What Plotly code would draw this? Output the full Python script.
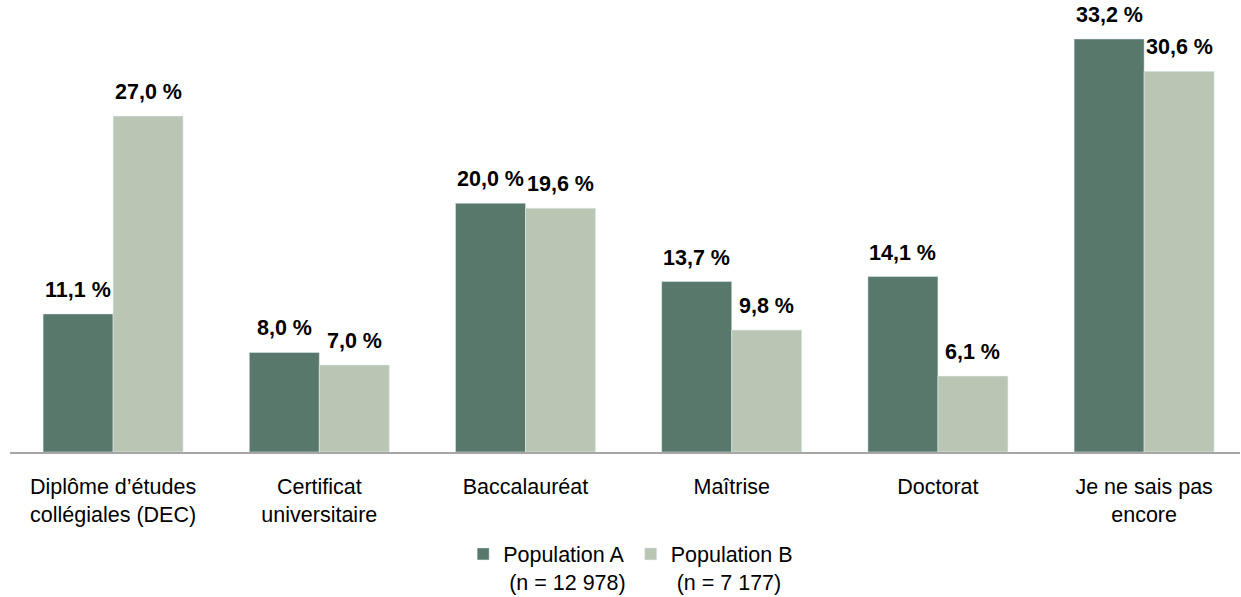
import plotly.graph_objects as go

categories = ["Diplôme d’études<br>collégiales (DEC)", "Certificat<br>universitaire",
              "Baccalauréat", "Maîtrise", "Doctorat", "Je ne sais pas<br>encore"]
pop_a = [11.1, 8.0, 20.0, 13.7, 14.1, 33.2]
pop_b = [27.0, 7.0, 19.6, 9.8, 6.1, 30.6]
name_a = "Population A<br>\u00a0(n = 12 978)"
name_b = "Population B<br>\u00a0(n = 7 177)"

col_a = "#57786B"
col_b = "#B9C6B4"
FONT = "Liberation Sans, Arial, sans-serif"
FS = 21.5

def fmt(v):
    return f"{v:.1f}".replace(".", ",") + " %"

fig = go.Figure()
fig.add_trace(go.Bar(x=categories, y=pop_a, name=name_a, marker_color=col_a))
fig.add_trace(go.Bar(x=categories, y=pop_b, name=name_b, marker_color=col_b))

for vals, shift in ((pop_a, -35), (pop_b, 35)):
    for c, v in zip(categories, vals):
        fig.add_annotation(x=c, y=v, text=fmt(v), showarrow=False, xshift=shift,
                           yanchor="bottom", yshift=10,
                           font=dict(family=FONT, size=FS, color="#000000", weight="bold"))

fig.update_layout(
    width=1241, height=597,
    margin=dict(l=10, r=1, t=10, b=145, autoexpand=False),
    paper_bgcolor="white", plot_bgcolor="white",
    barmode="group", bargap=0.321, bargroupgap=0,
    font=dict(family=FONT, size=FS, color="#000000"),
    showlegend=True,
    legend=dict(orientation="h", x=0.5046, xanchor="center",
                yref="container", y=0.1065, yanchor="top",
                valign="top", font=dict(family=FONT, size=FS, color="#000000"),
                traceorder="normal"),
)
fig.update_xaxes(range=[-0.5, 5.465], showline=True, linecolor="#A6A6A6", linewidth=2,
                 ticks="", showgrid=False, automargin=False, ticklabelstandoff=14,
                 tickfont=dict(family=FONT, size=FS))
fig.update_yaxes(range=[0, 35.53], visible=False, showgrid=False, automargin=False)

fig.write_html("out.html", config={"displayModeBar": False},
               post_script="document.body.style.margin='0';")
